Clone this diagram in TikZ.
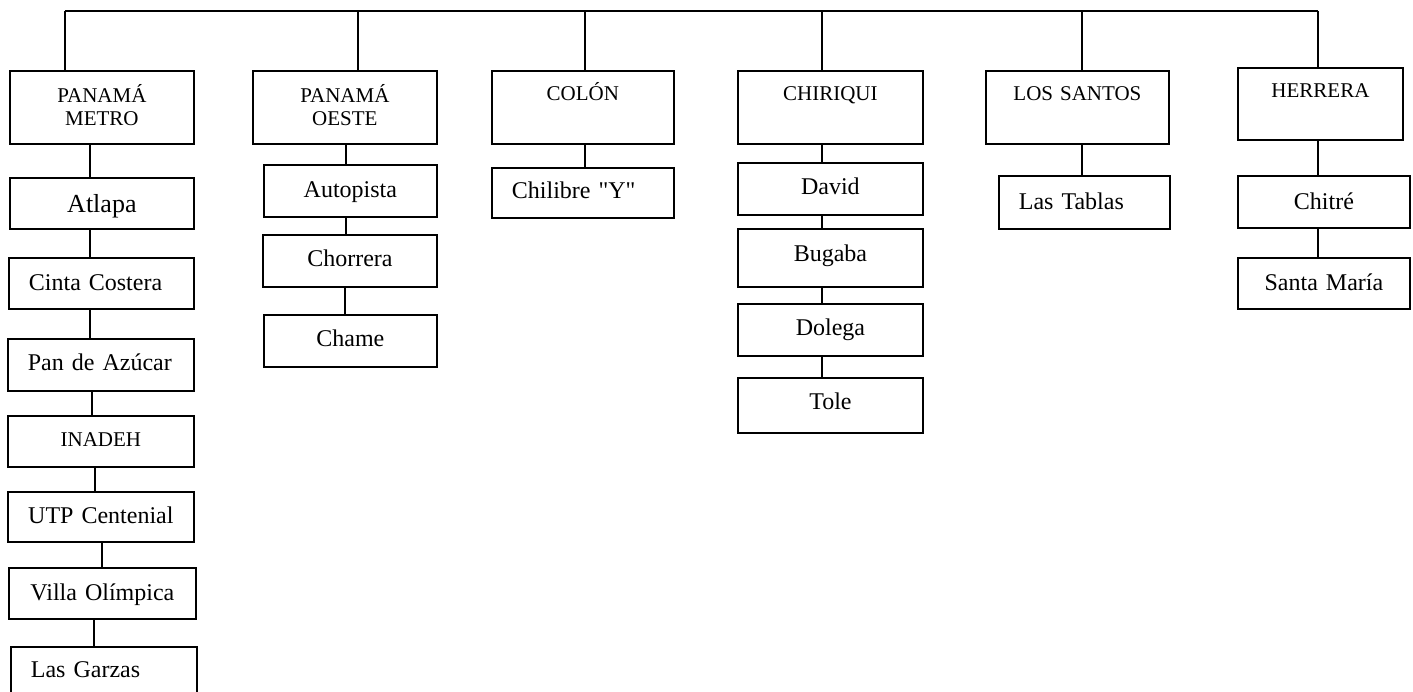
\documentclass[tikz,border=0pt]{standalone}
\usepackage{fontspec}
\setmainfont{Liberation Serif}[Ligatures=TeXOff]
\tikzset{
 box/.style={draw, line width=1.8pt, anchor=north west, inner ysep=0pt},
 cbox/.style={box, text width=\bw pt, inner xsep=0pt, align=center},
 lbox/.style={box, text width=\bw pt-40pt, inner xsep=20pt, align=left},
 link/.style={line width=1.8pt},
 hfont/.style={font=\fontsize{21}{23}\selectfont},
 ifont/.style={font=\fontsize{24}{28}\selectfont},
}
\newcommand\bx[8]{%
 \pgfmathsetmacro\bw{#4-#2}\pgfmathsetmacro\bh{#5-#3}\pgfmathsetmacro\td{#5-#3-#7}%
 \node[#6, minimum width=\bw pt, minimum height=\bh pt, text height=#7pt, text depth=\td pt] (#1) at (#2,#3) {#8};}
\newcommand\vlk[3]{\coordinate (vx) at (#3,0); \draw[link] (#1.south -| vx) -- (#2.north -| vx);}
\begin{document}
\begin{tikzpicture}[x=1pt, y=-1pt]
\useasboundingbox (0,0) rectangle (1413,692);
% headers
\bx{pm}{9}{70}{193}{143}{cbox,hfont}{32}{PANAMÁ\\METRO}
\bx{po}{252}{70}{436}{143}{cbox,hfont}{32}{PANAMÁ\\OESTE}
\bx{co}{491}{70}{673}{143}{cbox,hfont}{30}{COLÓN}
\bx{chi}{737}{70}{922}{143}{cbox,hfont}{30}{CHIRIQUI}
\bx{ls}{985}{70}{1168}{143}{cbox,hfont}{30}{LOS SANTOS}
\bx{he}{1237}{67}{1402}{139}{cbox,hfont}{30}{HERRERA}
% Panama Metro
\bx{atl}{9}{177}{193}{228}{cbox,font=\fontsize{26}{30}\selectfont}{35}{Atlapa}
\bx{cc}{8}{257}{193}{308}{lbox,ifont}{33}{Cinta Costera}
\bx{pa}{7}{338}{193}{390}{lbox,ifont}{32}{Pan de Azúcar}
\bx{ina}{7}{415}{193}{466}{cbox,hfont}{31}{INADEH}
\bx{utp}{7}{491}{193}{541}{cbox,ifont}{32}{UTP Centenial}
\bx{vo}{8}{567}{195}{618}{cbox,ifont}{33}{Villa Olímpica}
\bx{lg}{10}{646}{196}{730}{lbox,ifont}{31}{Las Garzas}
% Panama Oeste
\bx{aut}{263}{164}{436}{216}{cbox,ifont}{33}{Autopista}
\bx{cho}{262}{234}{436}{286}{cbox,ifont}{32}{Chorrera}
\bx{cha}{263}{314}{436}{366}{cbox,ifont}{32}{Chame}
% Colon
\bx{chy}{491}{167}{673}{217}{lbox,ifont}{31}{Chilibre "Y"}
% Chiriqui
\bx{dav}{737}{162}{922}{214}{cbox,ifont}{32}{David}
\bx{bug}{737}{228}{922}{286}{cbox,ifont}{33}{Bugaba}
\bx{dol}{737}{303}{922}{355}{cbox,ifont}{32}{Dolega}
\bx{tol}{737}{377}{922}{432}{cbox,ifont}{32}{Tole}
% Los Santos
\bx{lt}{998}{175}{1169}{228}{lbox,ifont}{34}{Las Tablas}
% Herrera
\bx{cht}{1237}{175}{1409}{227}{cbox,ifont}{34}{Chitré}
\bx{sm}{1237}{257}{1409}{308}{cbox,ifont}{33}{Santa María}
% bus
\coordinate (b1) at (65,11);
\coordinate (b2) at (358,11);
\coordinate (b3) at (585,11);
\coordinate (b4) at (822,11);
\coordinate (b5) at (1082,11);
\coordinate (b6) at (1318,11);
\draw[link] (b1) -- (b6);
\draw[link] (b1) -- (pm.north -| b1);
\draw[link] (b2) -- (po.north -| b2);
\draw[link] (b3) -- (co.north -| b3);
\draw[link] (b4) -- (chi.north -| b4);
\draw[link] (b5) -- (ls.north -| b5);
\draw[link] (b6) -- (he.north -| b6);
% links
\vlk{pm}{atl}{90}
\vlk{atl}{cc}{90}
\vlk{cc}{pa}{90}
\vlk{pa}{ina}{92}
\vlk{ina}{utp}{95}
\vlk{utp}{vo}{102}
\vlk{vo}{lg}{94}
\vlk{po}{aut}{346}
\vlk{aut}{cho}{346}
\vlk{cho}{cha}{345}
\vlk{co}{chy}{585}
\vlk{chi}{dav}{822}
\vlk{dav}{bug}{822}
\vlk{bug}{dol}{822}
\vlk{dol}{tol}{822}
\vlk{ls}{lt}{1082}
\vlk{he}{cht}{1318}
\vlk{cht}{sm}{1318}
\end{tikzpicture}
\end{document}
